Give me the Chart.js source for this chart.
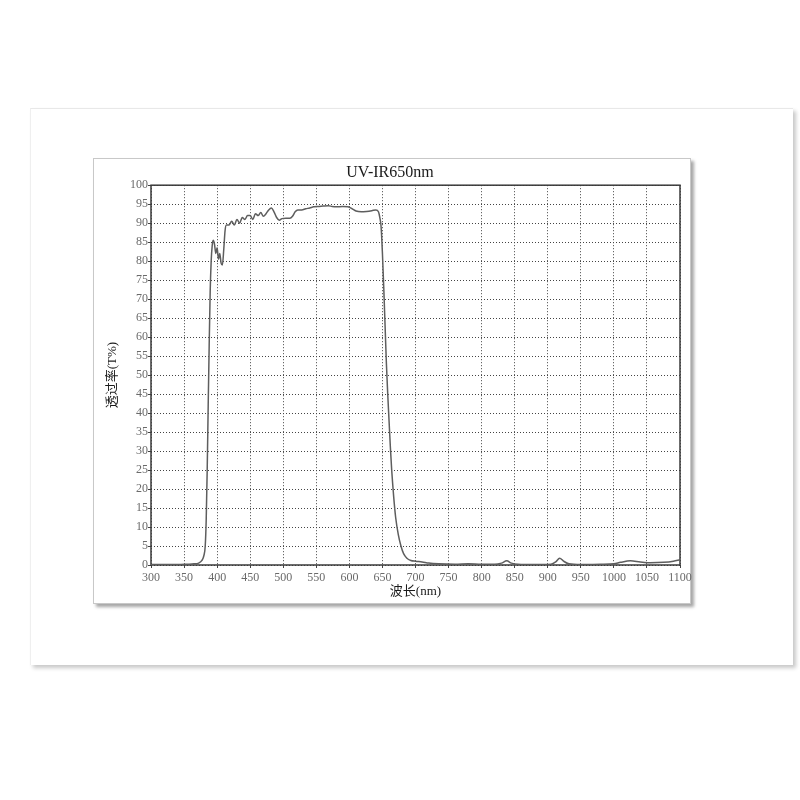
<!DOCTYPE html>
<html>
<head>
<meta charset="utf-8">
<script src="https://cdn.jsdelivr.net/npm/chart.js@4/dist/chart.umd.min.js"></script>
<style>
  html, body { margin: 0; padding: 0; background: #ffffff; }
  #wrap { position: relative; width: 800px; height: 800px; overflow: hidden; }
  #card { position: absolute; left: 30px; top: 108px; width: 762px; height: 556px; background: #fff;
          border-top: 1px solid #e8e8e8; border-left: 1px solid #efefef;
          box-shadow: 3px 3px 4px rgba(0,0,0,0.22); }
  #frame { position: absolute; left: 93px; top: 158px; width: 596px; height: 444px; background: #fff;
           border: 1px solid #c8c8c8; box-shadow: 3px 3px 3px rgba(0,0,0,0.35); }
  #c { position: absolute; left: 0; top: 0; }
</style>
</head>
<body>
<div id="wrap">
  <div id="card"></div>
  <div id="frame"></div>
  <canvas id="c" width="800" height="800"></canvas>
</div>
<script>
// Wavelength (nm)
const wavelengths = [
  300, 320, 340, 355, 365, 372, 377, 380, 382, 383.5, 385, 386.5, 388, 389.5, 391, 392.5, 394, 396, 398, 400,
  402, 404, 406, 408, 410, 412, 414, 418, 422, 426, 430, 434, 438, 442, 446, 450, 454, 458, 462, 466,
  470, 474, 478, 482, 486, 490, 494, 498, 504, 510, 514, 518, 522, 528, 534, 540, 546, 552, 560, 568,
  574, 580, 590, 598, 604, 610, 618, 626, 634, 640, 644, 646, 648, 650, 652, 654, 656, 658, 660, 662,
  664, 667, 670, 674, 678, 682, 687, 693, 700, 710, 720, 735, 760, 780, 800, 820, 830, 838, 845, 855,
  880, 905, 912, 918, 924, 932, 950, 980, 1000, 1010, 1025, 1040, 1055, 1075, 1090, 1100
];
// Transmittance (T%)
const transmittance = [
  0.1, 0.1, 0.1, 0.2, 0.3, 0.5, 1.2, 2.5, 5, 12, 25, 42, 58, 72, 80, 84, 85.5, 84.5, 82, 83.5,
  80.5, 82, 79.5, 79, 83, 88, 89.5, 89.5, 90.5, 89.5, 91, 90, 91.5, 91, 92, 92, 91, 92.5, 92, 92.8,
  91.8, 92.5, 93.5, 94, 93, 91.5, 90.8, 91.2, 91.3, 91.3, 91.8, 93, 93.5, 93.5, 93.8, 94, 94.3, 94.4, 94.5, 94.6,
  94.4, 94.3, 94.4, 94.3, 93.8, 93.2, 93, 93.1, 93.3, 93.5, 93, 91.5, 89, 82, 73, 63, 53, 45, 38, 31,
  25, 18, 12.5, 8, 5, 3, 1.8, 1.2, 1, 0.8, 0.5, 0.3, 0.2, 0.3, 0.2, 0.2, 0.5, 1.1, 0.5, 0.2,
  0.1, 0.2, 0.8, 1.8, 1.0, 0.3, 0.1, 0.2, 0.3, 0.7, 1.1, 0.8, 0.6, 0.7, 1.0, 1.4
];
const xTicks = [300, 350, 400, 450, 500, 550, 600, 650, 700, 750, 800, 850, 900, 950, 1000, 1050, 1100];
const yTicks = [0, 5, 10, 15, 20, 25, 30, 35, 40, 45, 50, 55, 60, 65, 70, 75, 80, 85, 90, 95, 100];

const chartTitle = 'UV-IR650nm';
const xTitle = '波长(nm)';
const yTitle = '透过率(T%)';

const points = wavelengths.map((w, i) => ({ x: w, y: transmittance[i] }));

const frameBorder = {
  id: 'frameBorder',
  beforeDatasetsDraw(chart) {
    const { ctx, chartArea: a } = chart;
    ctx.save();
    ctx.strokeStyle = '#3a3a3a';
    ctx.lineWidth = 1.5;
    ctx.setLineDash([]);
    ctx.strokeRect(a.left, a.top, a.right - a.left, a.bottom - a.top);
    ctx.restore();
  }
};

const serif = "'Liberation Serif', 'Times New Roman', 'Noto Sans CJK SC', serif";
const cjk = "'Liberation Serif', 'Noto Sans CJK SC', serif";

new Chart(document.getElementById('c'), {
  type: 'line',
  data: {
    datasets: [{
      data: points,
      borderColor: '#5e5e5e',
      borderWidth: 1.5,
      pointRadius: 0,
      fill: false,
      cubicInterpolationMode: 'monotone'
    }]
  },
  options: {
    responsive: false,
    animation: false,
    devicePixelRatio: 1,
    layout: { padding: { left: 100, top: 158, right: 120, bottom: 197 } },
    plugins: {
      legend: { display: false },
      tooltip: { enabled: false },
      title: {
        display: true,
        text: chartTitle,
        color: '#1a1a1a',
        font: { family: serif, size: 16, weight: 'normal' },
        padding: { top: 5, bottom: 3 }
      }
    },
    scales: {
      x: {
        type: 'linear',
        min: 300, max: 1100,
        afterBuildTicks(scale) { scale.ticks = xTicks.map(v => ({ value: v })); },
        afterFit(scale) { scale.height = 38; },
        ticks: { color: '#6a6a6a', font: { family: serif, size: 12 }, padding: 3, maxRotation: 0, autoSkip: false,
                 callback: v => String(v) },
        grid: { color: '#444', lineWidth: 1, drawTicks: true, tickLength: 3, tickColor: '#444' },
        border: { display: false, dash: [1, 2] },
        title: { display: true, text: xTitle, color: '#1a1a1a', font: { family: cjk, size: 13 }, padding: { top: 0, bottom: 4 } }
      },
      y: {
        type: 'linear',
        min: 0, max: 100,
        afterBuildTicks(scale) { scale.ticks = yTicks.map(v => ({ value: v })); },
        afterFit(scale) { scale.width = 51; },
        ticks: { color: '#6a6a6a', font: { family: serif, size: 12 }, padding: 0, autoSkip: false,
                 callback: v => String(v) },
        grid: { color: '#444', lineWidth: 1, drawTicks: true, tickLength: 3, tickColor: '#444' },
        border: { display: false, dash: [1, 2] },
        title: { display: true, text: yTitle, color: '#1a1a1a', font: { family: cjk, size: 13 }, padding: { top: 5, bottom: 0 } }
      }
    }
  },
  plugins: [frameBorder]
});
</script>
</body>
</html>
